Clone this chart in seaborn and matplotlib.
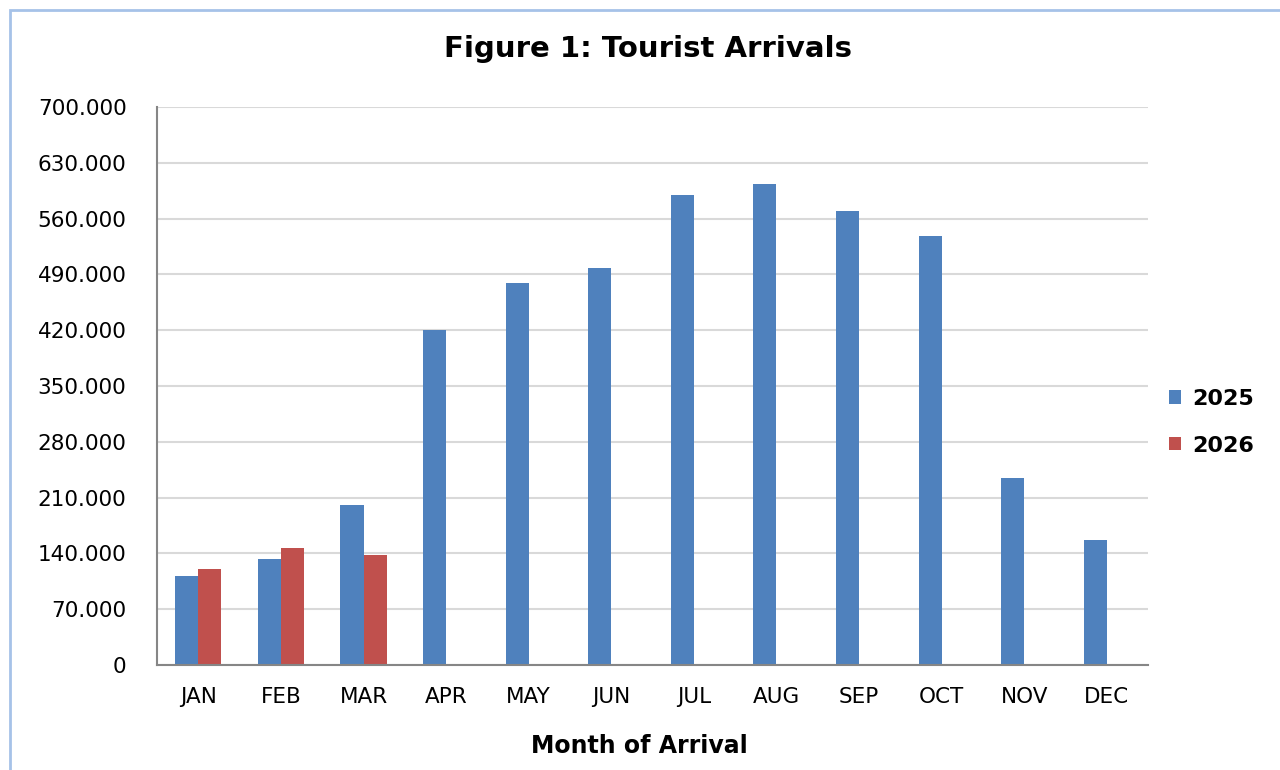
import pandas as pd
import seaborn as sns
import matplotlib.pyplot as plt
from matplotlib.patches import Rectangle
from matplotlib.ticker import FuncFormatter

# DATA
months = ["JAN", "FEB", "MAR", "APR", "MAY", "JUN",
          "JUL", "AUG", "SEP", "OCT", "NOV", "DEC"]
arrivals_2025 = [112000, 133000, 201000, 420000, 479000, 498000,
                 590000, 603000, 570000, 538000, 235000, 157000]
arrivals_2026 = [121000, 147000, 138000, None, None, None,
                 None, None, None, None, None, None]

df = pd.DataFrame({
    "month": months * 2,
    "year": ["2025"] * 12 + ["2026"] * 12,
    "arrivals": arrivals_2025 + arrivals_2026,
})

sns.set_style("white")
plt.rcParams["font.family"] = ["DejaVu Sans"]
plt.rcParams["text.color"] = "black"
plt.rcParams["axes.labelcolor"] = "black"

fig = plt.figure(figsize=(12.8, 7.7), dpi=100)
ax = fig.add_axes([0.1227, 0.1364, 0.7743, 0.7246])

sns.barplot(data=df, x="month", y="arrivals", hue="year", order=months,
            palette=["#4F81BD", "#C0504D"], saturation=1, width=0.56, ax=ax,
            edgecolor="none", errorbar=None)

# AXES
ax.set_ylim(0, 700000)
ax.set_yticks(range(0, 700001, 70000))
ax.yaxis.set_major_formatter(FuncFormatter(
    lambda v, p: "0" if v == 0 else f"{int(v):,}".replace(",", ".")))
ax.grid(axis="y", color="#D9D9D9", linewidth=1.5)
ax.set_axisbelow(True)
for s in ["top", "right"]:
    ax.spines[s].set_visible(False)
for s in ["left", "bottom"]:
    ax.spines[s].set_color("#868686")
    ax.spines[s].set_linewidth(1.5)
ax.tick_params(axis="both", length=0, labelsize=15.5, colors="black")
ax.tick_params(axis="y", pad=22)
ax.tick_params(axis="x", pad=16)
ax.set_xlim(-0.5, 11.5)

ax.set_ylabel("")
ax.set_xlabel("Month of Arrival", fontsize=17, fontweight="bold")
ax.xaxis.set_label_coords(0.487, -0.123)
fig.text(0.506, 0.937, "Figure 1: Tourist Arrivals", ha="center", va="center",
         fontsize=21, fontweight="bold")

leg = ax.legend(loc="center left", bbox_to_anchor=(1.001, 0.435), frameon=False,
                fontsize=16, handlelength=0.55, handleheight=0.55,
                labelspacing=1.2, handletextpad=0.5)
for t in leg.get_texts():
    t.set_fontweight("bold")

# BORDER
fig.patches.append(Rectangle((10 / 1280, -0.05), 1.1, 1 - 10 / 770 + 0.05,
                             transform=fig.transFigure, fill=False,
                             edgecolor="#A6C2E8", linewidth=2))

fig.savefig("out.png", dpi=100)
